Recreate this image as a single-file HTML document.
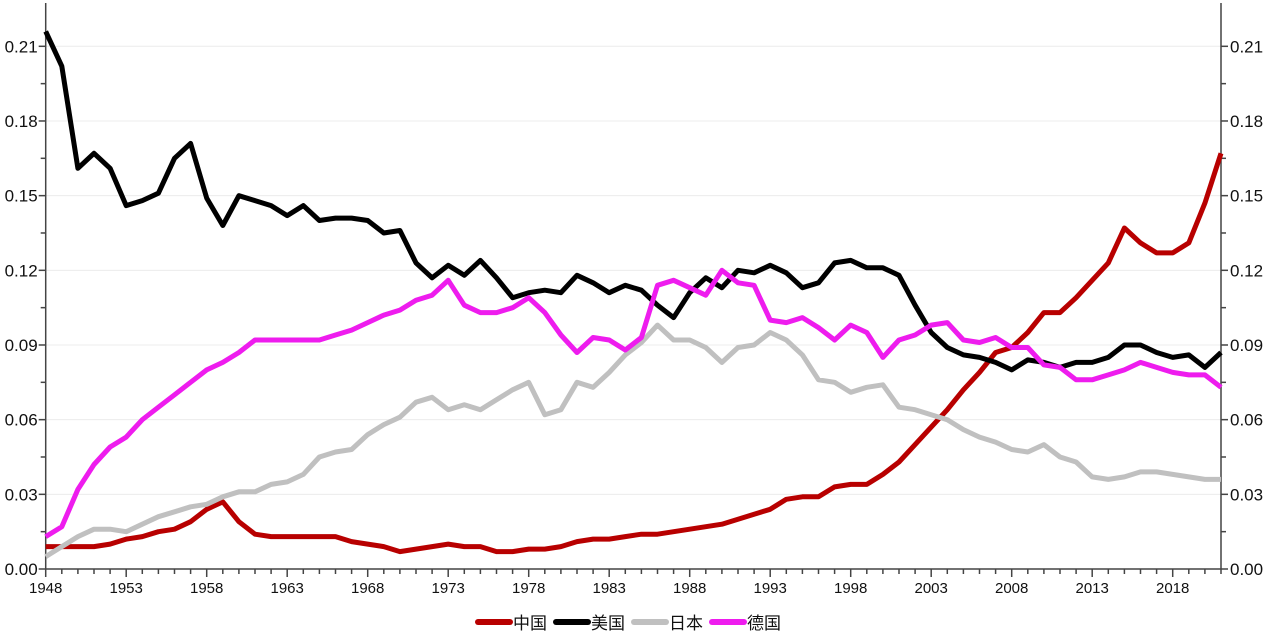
<!DOCTYPE html>
<html><head><meta charset="utf-8"><style>
body{margin:0;background:#fff;}
svg text{font-family:"Liberation Sans","Noto Sans CJK SC",sans-serif;fill:#111;}
</style></head><body>
<svg id="chart" width="1270" height="634" xmlns="http://www.w3.org/2000/svg"></svg>
<script>
const years=[];for(let y=1948;y<=2021;y++)years.push(y);
const xTickLabels=["1948","1953","1958","1963","1968","1973","1978","1983","1988","1993","1998","2003","2008","2013","2018"];
const yTickLabels=["0.00","0.03","0.06","0.09","0.12","0.15","0.18","0.21"];
const china=[.009,.009,.009,.009,.010,.012,.013,.015,.016,.019,.024,.027,.019,.014,.013,.013,.013,.013,.013,.011,.010,.009,.007,.008,.009,.010,.009,.009,.007,.007,.008,.008,.009,.011,.012,.012,.013,.014,.014,.015,.016,.017,.018,.020,.022,.024,.028,.029,.029,.033,.034,.034,.038,.043,.050,.057,.064,.072,.079,.087,.089,.095,.103,.103,.109,.116,.123,.137,.131,.127,.127,.131,.147,.167];
const usa=[.216,.202,.161,.167,.161,.146,.148,.151,.165,.171,.149,.138,.150,.148,.146,.142,.146,.140,.141,.141,.140,.135,.136,.123,.117,.122,.118,.124,.117,.109,.111,.112,.111,.118,.115,.111,.114,.112,.106,.101,.111,.117,.113,.120,.119,.122,.119,.113,.115,.123,.124,.121,.121,.118,.106,.095,.089,.086,.085,.083,.080,.084,.083,.081,.083,.083,.085,.090,.090,.087,.085,.086,.081,.087];
const japan=[.005,.009,.013,.016,.016,.015,.018,.021,.023,.025,.026,.029,.031,.031,.034,.035,.038,.045,.047,.048,.054,.058,.061,.067,.069,.064,.066,.064,.068,.072,.075,.062,.064,.075,.073,.079,.086,.091,.098,.092,.092,.089,.083,.089,.090,.095,.092,.086,.076,.075,.071,.073,.074,.065,.064,.062,.060,.056,.053,.051,.048,.047,.050,.045,.043,.037,.036,.037,.039,.039,.038,.037,.036,.036];
const germany=[.013,.017,.032,.042,.049,.053,.060,.065,.070,.075,.080,.083,.087,.092,.092,.092,.092,.092,.094,.096,.099,.102,.104,.108,.110,.116,.106,.103,.103,.105,.109,.103,.094,.087,.093,.092,.088,.093,.114,.116,.113,.110,.120,.115,.114,.100,.099,.101,.097,.092,.098,.095,.085,.092,.094,.098,.099,.092,.091,.093,.089,.089,.082,.081,.076,.076,.078,.080,.083,.081,.079,.078,.078,.073];
const seriesNames=["中国","美国","日本","德国"];
const seriesColors=["#b80000","#000000","#c0c0c0","#ee1cee"];
const seriesData=[china,usa,japan,germany];
const NS="http://www.w3.org/2000/svg";
const svg=document.getElementById('chart');
const X0=45.7,XS=16.1,Y0=569,YS=2489;
const xs=y=>X0+(y-1948)*XS, ys=v=>Y0-v*YS;
const R=xs(2021);
function mk(t,a,p){const e=document.createElementNS(NS,t);for(const k in a)e.setAttribute(k,a[k]);(p||svg).appendChild(e);return e;}
// grid
yTickLabels.forEach((l,i)=>{if(i==0)return;const g=mk('line',{x1:X0,x2:R,y1:ys(+l),y2:ys(+l),stroke:'#ececec','stroke-width':1});

});
// axes
const ax=mk('g',{stroke:'#444','stroke-width':1.5});


mk('line',{x1:X0,x2:X0,y1:3,y2:Y0},ax);mk('line',{x1:R,x2:R,y1:3,y2:Y0},ax);mk('line',{x1:X0,x2:R,y1:Y0,y2:Y0},ax);
for(let v=0;v<=0.225;v+=0.015){const py=ys(v);const major=Math.round(v*1000)%30==0;const L=major?7:5;
mk('line',{x1:X0-L,x2:X0,y1:py,y2:py},ax);mk('line',{x1:R,x2:R+L,y1:py,y2:py},ax);}
years.forEach(y=>{const major=(y-1948)%5==0;mk('line',{x1:xs(y),x2:xs(y),y1:Y0,y2:Y0+(major?8:5)},ax);});
yTickLabels.forEach(l=>{const t=mk('text',{x:X0-8,y:ys(+l)+6,'text-anchor':'end','font-size':17});t.textContent=l;


const t2=mk('text',{x:R+9,y:ys(+l)+6,'font-size':17});t2.textContent=l;

});
xTickLabels.forEach(l=>{const t=mk('text',{x:xs(+l),y:Y0+24,'text-anchor':'middle','font-size':15});t.textContent=l;

});
// series
seriesData.forEach((d,i)=>{const pts=d.map((v,j)=>xs(years[j]).toFixed(1)+','+ys(v).toFixed(1)).join(' ');
const p=mk('polyline',{points:pts,fill:'none',stroke:seriesColors[i],'stroke-width':5,'stroke-linejoin':'round'});

});
// legend
const lg=mk('g',{});


let lx=478;
seriesNames.forEach((n,i)=>{mk('line',{x1:lx,x2:lx+32,y1:622,y2:622,stroke:seriesColors[i],'stroke-width':6,'stroke-linecap':'round'},lg);
const t=mk('text',{x:lx+35,y:629,'font-size':17},lg);t.textContent=n;


lx+=78;});
</script>
</body></html>
